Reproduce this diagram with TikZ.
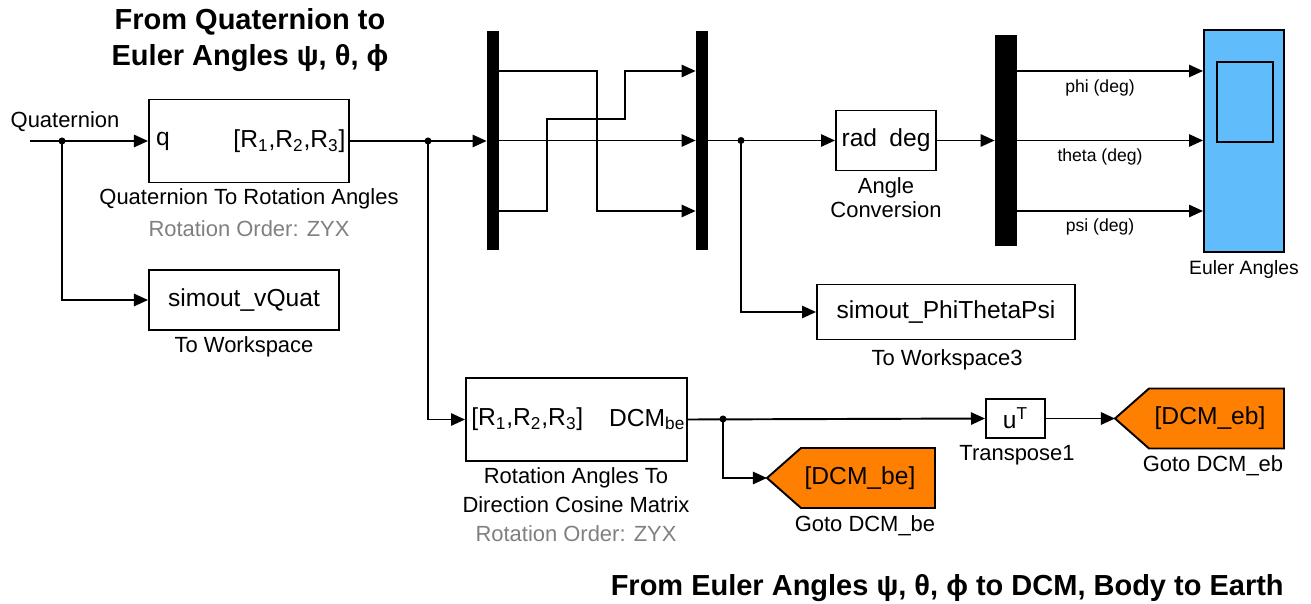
\documentclass[tikz,border=0pt]{standalone}
\usepackage{fontspec}
\setmainfont{Liberation Sans}
\usepackage{tikz}
\usetikzlibrary{arrows.meta, calc}

\definecolor{scopeblue}{RGB}{96,188,250}
\definecolor{gotoorange}{RGB}{255,128,0}
\definecolor{ordergray}{RGB}{128,128,128}

\begin{document}
\begin{tikzpicture}[x=0.02cm, y=-0.02cm,
    blk/.style={draw, line width=1.1pt, fill=white, inner sep=0pt, font=\fontsize{14}{16}\selectfont},
    busbar/.style={fill=black, inner sep=0pt},
    lbl/.style={font=\fontsize{12.5}{14}\selectfont, inner sep=0pt},
    siglbl/.style={font=\fontsize{10}{12}\selectfont, inner sep=0pt},
    wire/.style={line width=1.1pt},
    sig/.style={wire, -{Triangle[length=8pt, width=7pt]}},
    gotofill/.style={draw, line width=1.1pt, fill=gotoorange},
    gototxt/.style={inner sep=0pt, font=\fontsize{14}{16}\selectfont},
    ttl/.style={font=\bfseries\fontsize{16.5}{20.5}\selectfont, align=center, inner sep=0pt}]

    \useasboundingbox (0,0) rectangle (1311,604);

    % --- 1. 標題 ---
    \node[ttl] (title1) at (250,40) {From Quaternion to\\Euler Angles ψ, θ, ϕ};
    \node[ttl, anchor=east] (title2) at (1284,588) {From Euler Angles ψ, θ, ϕ to DCM, Body to Earth};

    % --- 2. 訊號高度 ---
    \coordinate (lvl1) at (0,71);
    \coordinate (lvl2) at (0,140.5);
    \coordinate (lvl3) at (0,211);

    % --- 3. 方塊 ---
    \node[blk, minimum width=4cm, minimum height=1.66cm] (q2r) at (249,141) {};
    \node[blk, minimum width=3.8cm, minimum height=1.2cm] (ws1) at (244,300) {simout\_vQuat};
    \node[blk, minimum width=4.42cm, minimum height=1.66cm] (r2d) at (576.5,419.5) {};
    \node[busbar, minimum width=0.24cm, minimum height=4.38cm] (bar1) at (493,140.5) {};
    \node[busbar, minimum width=0.24cm, minimum height=4.38cm] (bar2) at (702,140.5) {};
    \node[blk, minimum width=2cm, minimum height=1.2cm] (conv) at (886,140.5) {rad\hspace{0.5em}deg};
    \node[blk, minimum width=5.16cm, minimum height=1.1cm] (ws3) at (946,312) {simout\_PhiThetaPsi};
    \node[busbar, minimum width=0.44cm, minimum height=4.24cm] (bar3) at (1006,140.5) {};
    \node[blk, fill=scopeblue, minimum width=1.6cm, minimum height=4.44cm] (scope) at (1244,141) {};
    \node[blk, fill=scopeblue, minimum width=1.12cm, minimum height=1.6cm] (screen) at (1245,102) {};
    \node[blk, minimum width=1.18cm, minimum height=0.78cm] (tr) at (1015.5,418.5) {u\textsuperscript{T}};

    % Goto 方塊（五邊形）
    \coordinate (goto1tip) at (767,478);
    \coordinate (goto2tip) at (1115,418.5);
    \filldraw[gotofill] (goto1tip) -- ++(34,-30) -- ++(134,0) -- ++(0,60) -- ++(-134,0) -- cycle;
    \filldraw[gotofill] (goto2tip) -- ++(34,-30) -- ++(135,0) -- ++(0,60) -- ++(-135,0) -- cycle;
    \node[gototxt] (goto1) at (860,478) {[DCM\_be]};
    \node[gototxt] (goto2) at (1210,418.5) {[DCM\_eb]};

    % --- 4. 方塊內的埠文字 ---
    \node[blk, draw=none, fill=none, anchor=west] (q2rin) at ([xshift=4pt]q2r.west) {q};
    \node[blk, draw=none, fill=none, anchor=east] (q2rout) at ([xshift=-2pt]q2r.east)
        {[R\textsubscript{1},R\textsubscript{2},R\textsubscript{3}]};
    \node[blk, draw=none, fill=none, anchor=west] (r2din) at ([xshift=3pt]r2d.west)
        {[R\textsubscript{1},R\textsubscript{2},R\textsubscript{3}]};
    \node[blk, draw=none, fill=none, anchor=east] (r2dout) at ([xshift=-1pt]r2d.east)
        {DCM\textsubscript{be}};

    % --- 5. 標籤 ---
    \node[lbl] (qlbl) at (65,122) {Quaternion};
    \node[lbl] (q2rlbl) at (249,199) {Quaternion To Rotation Angles};
    \node[lbl, ordergray] (q2rord) at (249,229) {Rotation Order: ZYX};
    \node[lbl] (ws1lbl) at (244,347) {To Workspace};
    \node[lbl] (r2dlbl1) at (576,478) {Rotation Angles To};
    \node[lbl] (r2dlbl2) at (576,505) {Direction Cosine Matrix};
    \node[lbl, ordergray] (r2dord) at (576,534) {Rotation Order: ZYX};
    \node[lbl] (convlbl1) at (886,188) {Angle};
    \node[lbl] (convlbl2) at (886,210) {Conversion};
    \node[lbl] (ws3lbl) at (947,360) {To Workspace3};
    \node[siglbl] (philbl) at (1100,88) {phi (deg)};
    \node[siglbl] (thetalbl) at (1100,157) {theta (deg)};
    \node[siglbl] (psilbl) at (1100,227) {psi (deg)};
    \node[lbl, font=\fontsize{11}{13}\selectfont] (scopelbl) at (1244,270) {Euler Angles};
    \node[lbl] (trlbl) at (1017,455) {Transpose1};
    \node[lbl] (goto1lbl) at (865,526) {Goto DCM\_be};
    \node[lbl] (goto2lbl) at (1213,466) {Goto DCM\_eb};

    % --- 6. 連線 ---
    \coordinate (qin) at (30,141);
    \coordinate (j1) at (62,141);
    \coordinate (j2) at (428,141);
    \coordinate (j3) at (741,140.5);
    \coordinate (j4) at (723,419);
    \draw[sig] (qin) -- (q2r.west);
    \draw[sig] (j1) |- (ws1.west);
    \draw[sig] (q2r.east) -- (bar1.west |- q2r.east);
    \draw[sig] (j2) |- (r2d.west);

    \draw[sig] (bar1.east |- lvl1) -- ++(98,0) |- (bar2.west |- lvl3);
    \draw[sig] (bar1.east |- lvl2) -- (bar2.west |- lvl2);
    \draw[sig] (bar1.east |- lvl3) -- ++(48,0) -- ++(0,-92) -- ++(78,0) |- (bar2.west |- lvl1);

    \draw[sig] (bar2.east) -- (conv.west);
    \draw[sig] (j3) |- (ws3.west);
    \draw[sig] (conv.east) -- (bar3.west);
    \draw[sig] (bar3.east |- lvl1) -- (scope.west |- lvl1);
    \draw[sig] (bar3.east |- lvl2) -- (scope.west |- lvl2);
    \draw[sig] (bar3.east |- lvl3) -- (scope.west |- lvl3);

    \draw[sig] (r2d.east) -- (tr.west);
    \draw[sig] (j4) |- (goto1tip);
    \draw[sig] (tr.east) -- (goto2tip);

    % 分支點
    \foreach \j in {j1, j2, j3, j4}
        \fill (\j) circle[radius=2pt];

\end{tikzpicture}
\end{document}
